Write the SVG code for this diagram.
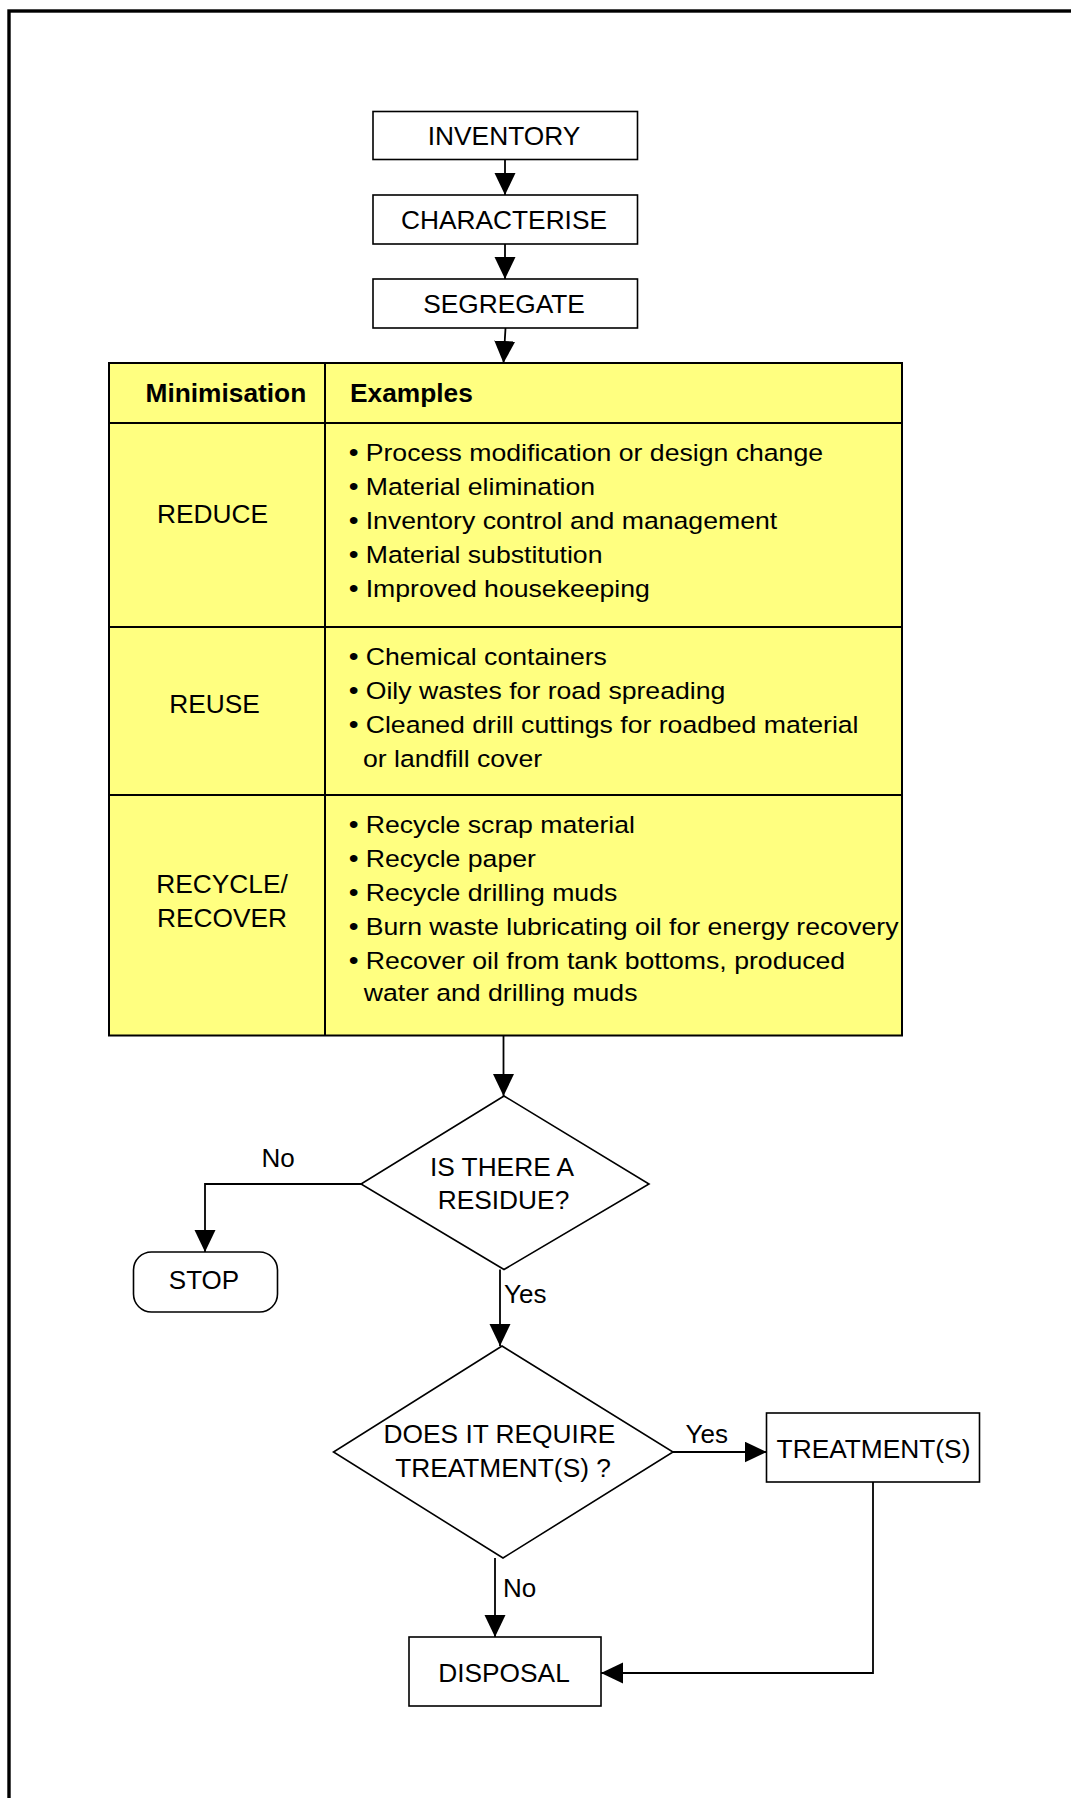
<svg xmlns="http://www.w3.org/2000/svg" width="1071" height="1798" viewBox="0 0 1071 1798">
<style>
text{font-family:"Liberation Sans",Arial,sans-serif;fill:#000}
.lbl{font-size:26.3px;text-anchor:middle}
.hdr{font-size:26.3px;font-weight:bold}
.ex{font-size:23.5px}
.b{font-weight:bold}
.sm{font-size:26px}
.box{fill:#fff;stroke:#000;stroke-width:1.6}
.cell{fill:#FFFF80;stroke:#000;stroke-width:2}
.con{fill:none;stroke:#000;stroke-width:1.8}
</style>
<defs>
<marker id="ah" markerUnits="userSpaceOnUse" markerWidth="24" markerHeight="22" refX="22" refY="10.5" orient="auto">
<path d="M0,0 L22,10.5 L0,21 Z" fill="#000"/>
</marker>
</defs>
<rect x="9" y="11" width="1100" height="1850" fill="#fff" stroke="#000" stroke-width="3.4"/>

<g id="inventory"><rect class="box" x="373" y="111.5" width="264.5" height="48"/><text class="lbl" x="504" y="145">INVENTORY</text></g>
<g id="characterise"><rect class="box" x="373" y="195" width="264.5" height="49"/><text class="lbl" x="504" y="228.5">CHARACTERISE</text></g>
<g id="segregate"><rect class="box" x="373" y="279" width="264.5" height="49"/><text class="lbl" x="504" y="312.5">SEGREGATE</text></g>

<g id="table">
<rect class="cell" x="109" y="363" width="793" height="60"/>
<rect class="cell" x="109" y="423" width="793" height="204"/>
<rect class="cell" x="109" y="627" width="793" height="168"/>
<rect class="cell" x="109" y="795" width="793" height="240.5"/>
<line x1="325" y1="363" x2="325" y2="1035.5" stroke="#000" stroke-width="2"/>
<text class="hdr" x="145.5" y="401.5">Minimisation</text>
<text class="hdr" x="350" y="401.5">Examples</text>
<text class="lbl" x="212.5" y="522.5">REDUCE</text>
<text class="lbl" x="214.5" y="713">REUSE</text>
<text class="lbl" x="222" y="893">RECYCLE/</text>
<text class="lbl" x="222" y="927">RECOVER</text>
<g class="ex" transform="translate(349 0) scale(1.133 1)">
<text x="0" y="461.5"><tspan class="b">•</tspan> Process modification or design change</text>
<text x="0" y="495"><tspan class="b">•</tspan> Material elimination</text>
<text x="0" y="529.3"><tspan class="b">•</tspan> Inventory control and management</text>
<text x="0" y="563.3"><tspan class="b">•</tspan> Material substitution</text>
<text x="0" y="596.7"><tspan class="b">•</tspan> Improved housekeeping</text>
<text x="0" y="665"><tspan class="b">•</tspan> Chemical containers</text>
<text x="0" y="699"><tspan class="b">•</tspan> Oily wastes for road spreading</text>
<text x="0" y="733"><tspan class="b">•</tspan> Cleaned drill cuttings for roadbed material</text>
<text x="12.4" y="767">or landfill cover</text>
<text x="0" y="833.3"><tspan class="b">•</tspan> Recycle scrap material</text>
<text x="0" y="867.3"><tspan class="b">•</tspan> Recycle paper</text>
<text x="0" y="901.5"><tspan class="b">•</tspan> Recycle drilling muds</text>
<text x="0" y="935"><tspan class="b">•</tspan> Burn waste lubricating oil for energy recovery</text>
<text x="0" y="969.3"><tspan class="b">•</tspan> Recover oil from tank bottoms, produced</text>
<text x="13" y="1001">water and drilling muds</text>
</g>
</g>

<g id="residue"><polygon class="box" points="504,1096 649,1184 504,1269.5 361,1184"/><text class="lbl" x="502" y="1175.5">IS THERE A</text><text class="lbl" x="503.5" y="1209">RESIDUE?</text></g>
<g id="stop"><rect class="box" x="133.5" y="1252" width="144" height="60" rx="18" ry="18"/><text class="sm" x="204" y="1288.5" text-anchor="middle">STOP</text></g>
<g id="treatq"><polygon class="box" points="502,1346 673,1452 503,1558 333.5,1452"/><text class="lbl" x="499.5" y="1443">DOES IT REQUIRE</text><text class="lbl" x="503" y="1476.5">TREATMENT(S) ?</text></g>
<g id="treatment"><rect class="box" x="766.5" y="1413" width="213" height="69"/><text class="lbl" x="873.5" y="1458.3">TREATMENT(S)</text></g>
<g id="disposal"><rect class="box" x="409" y="1637" width="192" height="69"/><text class="lbl" x="504" y="1681.5">DISPOSAL</text></g>

<g id="connectors">
<line class="con" x1="505" y1="159.5" x2="505" y2="195" marker-end="url(#ah)"/>
<line class="con" x1="505" y1="244" x2="505" y2="279" marker-end="url(#ah)"/>
<line class="con" x1="505.5" y1="328" x2="503.5" y2="363" marker-end="url(#ah)"/>
<line class="con" x1="503.5" y1="1035.5" x2="503.5" y2="1096" marker-end="url(#ah)"/>
<path class="con" d="M361,1184 H205 V1252" marker-end="url(#ah)"/>
<line class="con" x1="500" y1="1269.5" x2="500" y2="1346" marker-end="url(#ah)"/>
<line class="con" x1="673" y1="1452" x2="766.5" y2="1452" marker-end="url(#ah)"/>
<line class="con" x1="495" y1="1558" x2="495" y2="1637" marker-end="url(#ah)"/>
<path class="con" d="M873,1482 V1673 H601" marker-end="url(#ah)"/>
<text class="sm" x="261.5" y="1167">No</text>
<text class="sm" x="504" y="1303">Yes</text>
<text class="sm" x="685.5" y="1443">Yes</text>
<text class="sm" x="503" y="1597">No</text>
</g>
</svg>
